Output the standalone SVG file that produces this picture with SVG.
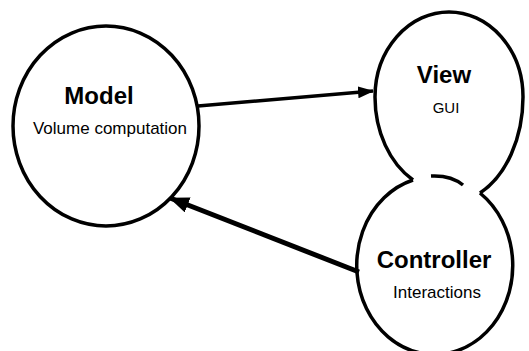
<svg xmlns="http://www.w3.org/2000/svg" width="529" height="351" viewBox="0 0 529 351">
<style>
.sh{fill:none;stroke:#000;stroke-width:3.5}
.t{font-family:"Liberation Sans",Arial,sans-serif;fill:#000;text-anchor:middle}
.b{font-weight:bold;font-size:24px}
.c{stroke:#000;fill:none}
</style>
<defs>
<marker id="ah1" markerUnits="userSpaceOnUse" markerWidth="16" markerHeight="12" refX="15" refY="6" orient="auto"><path d="M0,0 L16,6 L0,12 z" fill="#000"/></marker>
<marker id="ah2" markerUnits="userSpaceOnUse" markerWidth="20" markerHeight="16" refX="19" refY="8" orient="auto"><path d="M0,0 L20,8 L0,16 z" fill="#000"/></marker>
</defs>
<rect width="529" height="351" fill="#fff"/>
<g id="model">
<ellipse class="sh" cx="106" cy="126" rx="93" ry="100"/>
<text class="t b" x="99" y="104">Model</text>
<text class="t" x="110" y="134" font-size="17">Volume computation</text>
</g>
<g id="view">
<path class="sh" d="M413,180 A74,95 0 0 1 375,97 A74,85 0 0 1 523,97 A74,106 0 0 1 480,193"/>
<text class="t b" x="444" y="83">View</text>
<text class="t" x="446" y="113" font-size="15">GUI</text>
</g>
<g id="controller">
<path class="sh" d="M413,180 A78,89 0 1 0 480,193"/>
<path class="sh" d="M431,176 Q451,175 463,185"/>
<text class="t b" x="434" y="268">Controller</text>
<text class="t" x="437" y="298" font-size="17">Interactions</text>
</g>
<g id="connectors">
<line class="c" x1="198" y1="106" x2="373" y2="91" stroke-width="3.5" marker-end="url(#ah1)"/>
<line class="c" x1="359" y1="272" x2="170" y2="198" stroke-width="5" marker-end="url(#ah2)"/>
</g>
</svg>
